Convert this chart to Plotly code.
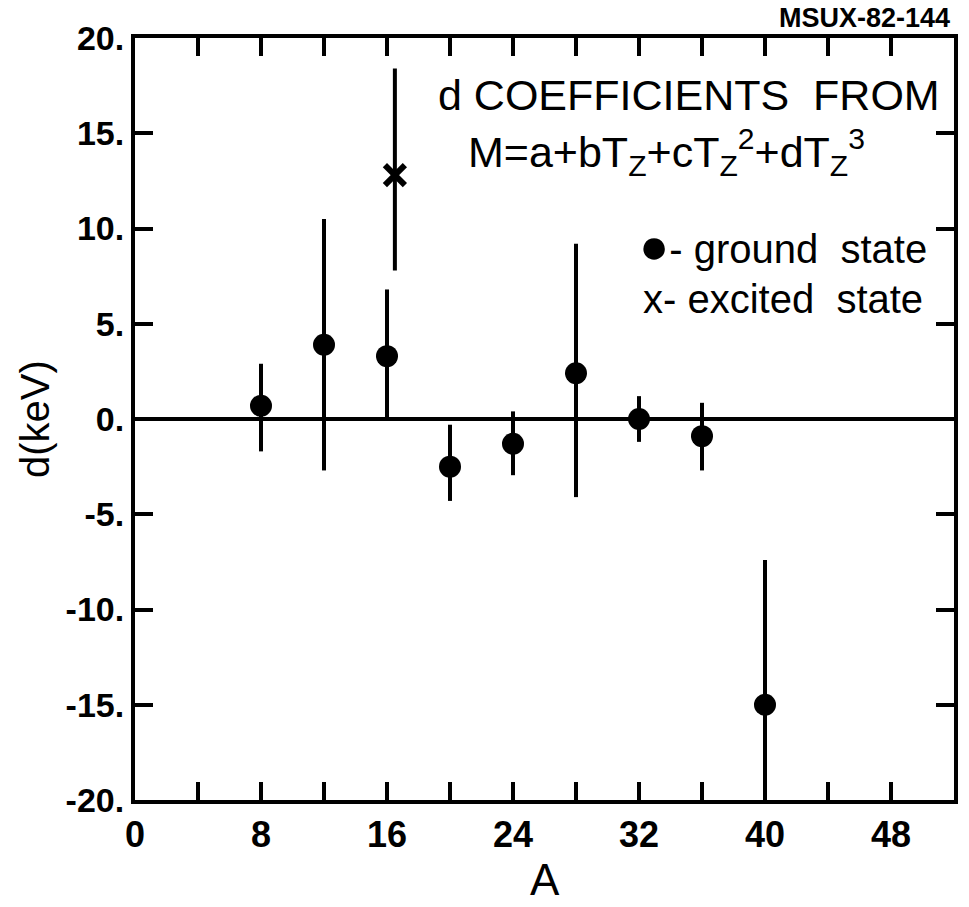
import plotly.graph_objects as go

# Mass number A and cubic coefficient d (keV) for ground-state multiplets
A_ground = [8, 12, 16, 20, 24, 28, 32, 36, 40]
d_ground = [0.7, 3.9, 3.3, -2.5, -1.3, 2.4, 0.0, -0.9, -15.0]
err_up_ground = [2.2, 6.6, 3.5, 2.2, 1.7, 6.8, 1.2, 1.75, 7.6]
err_dn_ground = [2.4, 6.6, 3.35, 1.8, 1.65, 6.5, 1.2, 1.8, 7.6]

# Excited-state multiplet
A_excited = [16.5]
d_excited = [12.8]
err_up_excited = [5.6]
err_dn_excited = [5.0]

# Axis ticks
x_tickvals = [0, 8, 16, 24, 32, 40, 48]
x_ticktext = ["0", "8", "16", "24", "32", "40", "48"]
y_tickvals = [20, 15, 10, 5, 0, -5, -10, -15, -20]
y_ticktext = ["20.", "15.", "10.", "5.", "0.", "-5.", "-10.", "-15.", "-20."]

FONT = "Liberation Sans, Arial, sans-serif"
INK = "black"

fig = go.Figure()

fig.add_trace(go.Scatter(
    x=A_ground, y=d_ground, mode="markers",
    marker=dict(symbol="circle", size=22, color=INK),
    error_y=dict(type="data", symmetric=False, array=err_up_ground,
                 arrayminus=err_dn_ground, width=0, thickness=4, color=INK),
    showlegend=False,
))

fig.add_trace(go.Scatter(
    x=A_excited, y=d_excited, mode="markers",
    marker=dict(symbol="x-thin-open", size=20, color=INK,
                line=dict(width=6, color=INK)),
    error_y=dict(type="data", symmetric=False, array=err_up_excited,
                 arrayminus=err_dn_excited, width=0, thickness=4, color=INK),
    showlegend=False,
))

axis_common = dict(
    showline=True, linewidth=4, linecolor=INK, mirror="ticks",
    ticks="inside", ticklen=18, tickwidth=4, tickcolor=INK,
    showgrid=False,
)

fig.update_xaxes(
    range=[0, 52], tickmode="array", tickvals=x_tickvals, ticktext=x_ticktext,
    minor=dict(ticks="inside", ticklen=18, tickwidth=4, tickcolor=INK,
               dtick=4, tick0=0, showgrid=False),
    tickfont=dict(family=FONT, size=36, color=INK, weight="bold"),
    zeroline=False, **axis_common,
)
fig.update_yaxes(
    range=[-20, 20], tickmode="array", tickvals=y_tickvals, ticktext=y_ticktext,
    tickfont=dict(family=FONT, size=34, color=INK, weight="bold"),
    zeroline=True, zerolinewidth=4, zerolinecolor=INK,
    **axis_common,
)

annotations = [
    # axis titles
    dict(text="A", xref="paper", yref="paper", x=0.5, y=0, xanchor="center",
         yanchor="middle", yshift=-79, showarrow=False,
         font=dict(family=FONT, size=44, color=INK)),
    dict(text="d(keV)", xref="paper", yref="paper", x=0, y=0.5, xanchor="center",
         yanchor="middle", xshift=-100, textangle=-90, showarrow=False,
         font=dict(family=FONT, size=40, color=INK)),
    # report number
    dict(text="<b>MSUX-82-144</b>", xref="paper", yref="paper", x=1, y=1,
         xanchor="right", yanchor="middle", xshift=-2, yshift=20, showarrow=False,
         font=dict(family=FONT, size=27, color=INK)),
    # fit description
    dict(text="d COEFFICIENTS  FROM", x=19.1, y=17.0, xanchor="left",
         yanchor="middle", showarrow=False,
         font=dict(family=FONT, size=43, color=INK)),
    dict(text="M=a+bT<sub>Z</sub>+cT<sub>Z</sub><sup>2</sup>+dT<sub>Z</sub><sup>3</sup>",
         x=21.0, y=14.0, xanchor="left", yanchor="middle", showarrow=False,
         font=dict(family=FONT, size=43, color=INK)),
    # key
    dict(text="<span style='font-size:50px'>●</span>- ground  state", x=31.9, y=9.1,
         xanchor="left", yanchor="middle", showarrow=False,
         font=dict(family=FONT, size=40, color=INK)),
    dict(text="x- excited  state", x=32.1, y=6.3, xanchor="left",
         yanchor="middle", showarrow=False,
         font=dict(family=FONT, size=40, color=INK)),
]

fig.update_layout(
    width=969, height=907,
    margin=dict(l=135, r=11, t=38, b=107),
    paper_bgcolor="white", plot_bgcolor="white",
    annotations=annotations,
    font=dict(family=FONT, color=INK),
)

fig.write_html("out.html")
